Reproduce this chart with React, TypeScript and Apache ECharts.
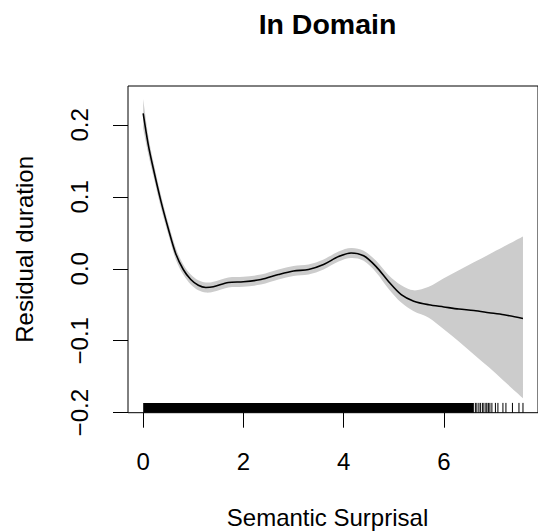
import React, { useEffect, useRef } from "react";
import * as echarts from "echarts";

// Smooth term (x: semantic surprisal, fit / confidence band: residual duration)
const xs = [0, 0.1, 0.2, 0.35, 0.5, 0.65, 0.8, 0.95, 1.1, 1.25, 1.4, 1.7, 2.0, 2.35, 2.7, 3.0, 3.3, 3.6, 3.9, 4.15, 4.4, 4.65, 4.9, 5.15, 5.4, 5.7, 6.0, 6.3, 6.6, 6.9, 7.2, 7.58];
const fit = [0.216, 0.173, 0.14, 0.095, 0.056, 0.021, -0.001, -0.015, -0.023, -0.026, -0.025, -0.019, -0.018, -0.015, -0.008, -0.003, -0.001, 0.006, 0.017, 0.022, 0.018, 0.003, -0.018, -0.036, -0.045, -0.05, -0.053, -0.056, -0.058, -0.061, -0.064, -0.069];
const upper = [0.236, 0.186, 0.15, 0.104, 0.064, 0.029, 0.006, -0.008, -0.016, -0.019, -0.018, -0.012, -0.011, -0.008, -0.001, 0.004, 0.006, 0.013, 0.024, 0.029, 0.025, 0.011, -0.009, -0.023, -0.03, -0.025, -0.013, -0.002, 0.009, 0.02, 0.031, 0.045];
const lower = [0.195, 0.16, 0.13, 0.086, 0.048, 0.013, -0.008, -0.022, -0.03, -0.033, -0.032, -0.026, -0.025, -0.022, -0.015, -0.01, -0.008, -0.001, 0.01, 0.015, 0.011, -0.005, -0.028, -0.047, -0.059, -0.068, -0.084, -0.101, -0.119, -0.137, -0.156, -0.18];

// Rug: densely covered range, then individual observations
const rugDenseRange = [0, 6.6];
const rugSparse = [6.63, 6.66, 6.7, 6.73, 6.77, 6.8, 6.84, 6.86, 6.89, 6.92, 6.96, 7.03, 7.08, 7.18, 7.24, 7.37, 7.5, 7.58];

const xTicks = [0, 2, 4, 6];
const yTicks = [-0.2, -0.1, 0, 0.1, 0.2];

const titleText = "In Domain";
const xLabel = "Semantic Surprisal";
const yLabel = "Residual duration";

const FONT = "'Liberation Sans', Arial, Helvetica, sans-serif";
const Y_MIN = -0.2;
const Y_MAX = 0.254;
const RUG_LEN = 9.8;

// Catmull-Rom through pixel points -> cubic bezier path commands
function curveThrough(pts: number[][], start: boolean): string {
  let d = start ? `M${pts[0][0]},${pts[0][1]}` : `L${pts[0][0]},${pts[0][1]}`;
  for (let i = 0; i < pts.length - 1; i++) {
    const p0 = pts[i - 1] || pts[i];
    const p1 = pts[i];
    const p2 = pts[i + 1];
    const p3 = pts[i + 2] || p2;
    const c1x = p1[0] + (p2[0] - p0[0]) / 6;
    const c1y = p1[1] + (p2[1] - p0[1]) / 6;
    const c2x = p2[0] - (p3[0] - p1[0]) / 6;
    const c2y = p2[1] - (p3[1] - p1[1]) / 6;
    d += `C${c1x},${c1y},${c2x},${c2y},${p2[0]},${p2[1]}`;
  }
  return d;
}

export default function App() {
  const ref = useRef<HTMLDivElement>(null);
  useEffect(() => {
    if (!ref.current) return;
    const chart = echarts.init(ref.current, null, { renderer: "svg" });
    const fmtY = (v: number) => {
      const s = Math.abs(v).toFixed(1);
      return v < -1e-9 ? "\u2212" + s : s;
    };
    const option: any = {
      animation: false,
      backgroundColor: "#ffffff",
      grid: {
        left: 128,
        top: 86,
        width: 418,
        height: 326.7,
        show: true,
        borderColor: "#000",
        borderWidth: 1,
        backgroundColor: "transparent",
        containLabel: false,
      },
      graphic: [
        {
          type: "text",
          x: 327.5,
          y: 24,
          style: {
            text: titleText,
            font: `bold 28.5px ${FONT}`,
            fill: "#000",
            textAlign: "center",
            textVerticalAlign: "middle",
          },
        },
        {
          type: "text",
          x: 327.5,
          y: 517,
          style: {
            text: xLabel,
            font: `24px ${FONT}`,
            fill: "#000",
            textAlign: "center",
            textVerticalAlign: "middle",
          },
        },
      ],
      xAxis: {
        type: "value",
        min: -0.303,
        max: 7.88,
        axisLine: { show: false, onZero: false },
        splitLine: { show: false },
        axisTick: {
          show: true,
          inside: false,
          length: 15,
          customValues: xTicks,
          lineStyle: { color: "#000", width: 1 },
        },
        axisLabel: {
          customValues: xTicks,
          margin: 37,
          fontSize: 24,
          fontFamily: FONT,
          color: "#000",
          formatter: (v: number) => String(v),
        },
      },
      yAxis: {
        type: "value",
        min: Y_MIN,
        max: Y_MAX,
        name: yLabel,
        nameLocation: "middle",
        nameGap: 92,
        nameTextStyle: { fontSize: 24, fontFamily: FONT, color: "#000" },
        axisLine: { show: false, onZero: false },
        splitLine: { show: false },
        axisTick: {
          show: true,
          inside: false,
          length: 15,
          customValues: yTicks,
          lineStyle: { color: "#000", width: 1 },
        },
        axisLabel: {
          customValues: yTicks,
          rotate: 90,
          margin: 37,
          fontSize: 24,
          fontFamily: FONT,
          color: "#000",
          formatter: fmtY,
        },
      },
      series: [
        {
          type: "custom",
          name: "band",
          data: [[0]],
          renderItem: (params: any, api: any) => {
            const up = xs.map((x, i) => api.coord([x, upper[i]]));
            const lo = xs.map((x, i) => api.coord([x, lower[i]])).reverse();
            const d = curveThrough(up, true) + curveThrough(lo, false) + "Z";
            return {
              type: "path",
              shape: { pathData: d },
              style: { fill: "#cccccc", stroke: "none" },
            };
          },
          silent: true,
          z: 1,
        },
        {
          type: "line",
          name: "fit",
          data: xs.map((x, i) => [x, fit[i]]),
          symbol: "none",
          smooth: 0.3,
          lineStyle: { color: "#000", width: 1.6 },
          silent: true,
          z: 3,
        },
        {
          type: "custom",
          name: "rugDense",
          data: [[rugDenseRange[0], rugDenseRange[1]]],
          renderItem: (params: any, api: any) => {
            const a = api.coord([api.value(0), Y_MIN]);
            const b = api.coord([api.value(1), Y_MIN]);
            return {
              type: "rect",
              shape: { x: a[0], y: a[1] - RUG_LEN, width: b[0] - a[0], height: RUG_LEN },
              style: { fill: "#000" },
            };
          },
          silent: true,
          z: 4,
        },
        {
          type: "custom",
          name: "rugSparse",
          data: rugSparse.map((x) => [x]),
          renderItem: (params: any, api: any) => {
            const p = api.coord([api.value(0), Y_MIN]);
            return {
              type: "line",
              shape: { x1: p[0], y1: p[1], x2: p[0], y2: p[1] - RUG_LEN },
              style: { stroke: "#000", lineWidth: 1 },
            };
          },
          silent: true,
          z: 4,
        },
      ],
    };
    chart.setOption(option);
    return () => chart.dispose();
  }, []);
  return (
    <div
      ref={ref}
      style={{ position: "absolute", left: 0, top: 0, width: 538, height: 531, background: "#fff" }}
    />
  );
}
